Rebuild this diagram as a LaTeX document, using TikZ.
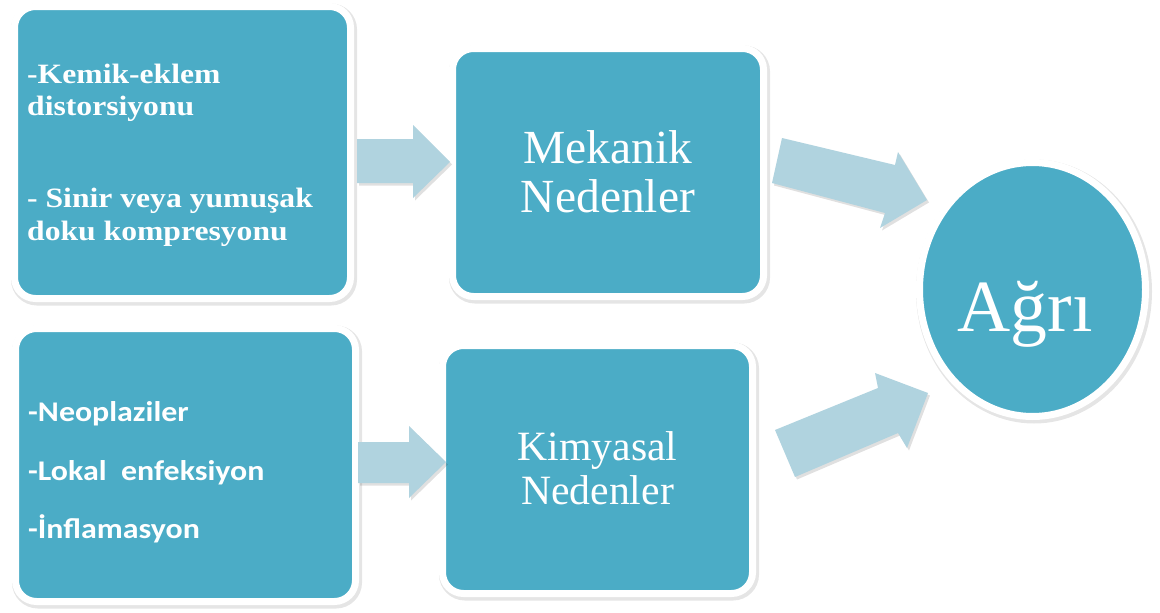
\documentclass[tikz,border=0pt]{standalone}
\usepackage{fontspec}
\setmainfont{Liberation Serif}
\newfontfamily\lserif[FakeStretch=1.13]{Liberation Serif}
\newfontfamily\lsans[FakeStretch=1.12]{Carlito}
\usetikzlibrary{shapes.geometric}
\definecolor{boxteal}{RGB}{75,172,198}
\definecolor{arrowblue}{RGB}{176,211,223}
\begin{document}
\begin{tikzpicture}[x=1pt,y=-1pt]
\useasboundingbox[fill=white] (0,0) rectangle (1160,613);
\tikzset{
  boxsh/.style={preaction={draw=black, draw opacity=0.10, line width=10pt, transform canvas={xshift=1.5pt,yshift=-2pt}}},
  box/.style={rectangle, rounded corners=21pt, fill=boxteal, draw=white, line width=7pt, inner sep=0pt, boxsh},
  circ/.style={ellipse, fill=boxteal, draw=white, line width=7pt, inner sep=0pt, boxsh},
  blockarrow/.style={fill=arrowblue, preaction={fill=black, fill opacity=0.12, transform canvas={xshift=2pt,yshift=-2.5pt}}},
  serifbold/.style={text=white, inner sep=0pt, anchor=base west, font=\fontsize{28}{30}\selectfont\lserif\bfseries},
  sansbold/.style={text=white, inner sep=0pt, anchor=base west, font=\fontsize{28.5}{30}\selectfont\lsans\bfseries},
  bigtxt/.style={text=white, inner sep=0pt, anchor=base},
}
% boxes
\node[box, minimum width=336pt, minimum height=292pt] (b1) at (182.5,152.5) {};
\node[box, minimum width=340pt, minimum height=273pt] (b2) at (185.5,465) {};
\node[box, minimum width=311pt, minimum height=248pt] (mek) at (608,172.5) {};
\node[box, minimum width=310pt, minimum height=248pt] (kim) at (597.5,469.5) {};
\node[circ, minimum width=226pt, minimum height=254pt] (agri) at (1032.5,289.5) {};
% block arrows
\fill[blockarrow] (357,139) -- (413,139) -- (413,125) -- (450,162) -- (413,198) -- (413,183) -- (357,183) -- cycle;
\fill[blockarrow] (358,442) -- (409,442) -- (409,426) -- (446,462) -- (409,498) -- (409,483) -- (358,483) -- cycle;
\fill[blockarrow] (782,138) -- (895,165) -- (898,152) -- (927,200) -- (880,228) -- (885,213) -- (772,183) -- cycle;
\fill[blockarrow] (775,430) -- (878,388) -- (875,373) -- (928,393) -- (907,448) -- (898,433) -- (795,477) -- cycle;
% left top text
\node[serifbold] (t1) at (27,83) {-Kemik-eklem};
\node[serifbold] (t2) at (27,115) {distorsiyonu};
\node[serifbold] (t3) at (27,207) {- Sinir veya yumuşak};
\node[serifbold] (t4) at (27,240) {doku kompresyonu};
% left bottom text
\node[sansbold] (s1) at (28,421.5) {-Neoplaziler};
\node[sansbold] (s2) at (28,480) {-Lokal\ \ enfeksiyon};
\node[sansbold] (s3) at (28,538) {-İnflamasyon};
% centre texts
\node[bigtxt, font=\fontsize{47.5}{50}\selectfont] (m1) at (608,163.3) {Mekanik};
\node[bigtxt, font=\fontsize{47.5}{50}\selectfont] (m2) at (608,212) {Nedenler};
\node[bigtxt, font=\fontsize{41.7}{44}\selectfont] (k1) at (597.5,460) {Kimyasal};
\node[bigtxt, font=\fontsize{41.7}{44}\selectfont] (k2) at (597.5,504) {Nedenler};
\node[bigtxt, font=\fontsize{73.6}{76}\selectfont] (a1) at (1025,331) {Ağrı};
\end{tikzpicture}
\end{document}
